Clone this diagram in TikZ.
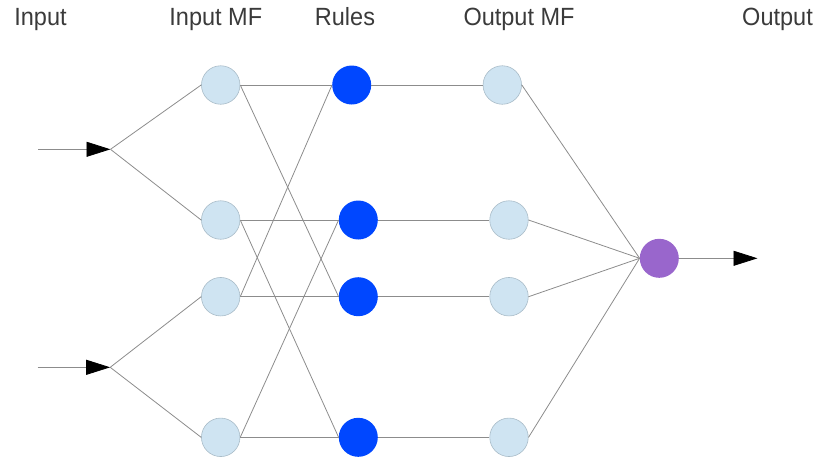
\documentclass[tikz,border=0pt]{standalone}
\usepackage{fontspec}
\setmainfont{Liberation Sans}
\usetikzlibrary{arrows.meta}
\definecolor{mffill}{HTML}{CFE4F2}
\definecolor{mfedge}{HTML}{A9BCC8}
\definecolor{ruleblue}{HTML}{0047FF}
\definecolor{outpurple}{HTML}{9966CC}
\definecolor{wiregray}{HTML}{8C8C8C}
\definecolor{labelgray}{HTML}{3A3A3A}
\begin{document}
\begin{tikzpicture}[x=1pt,y=-1pt,
  wire/.style={draw=wiregray, line width=0.8pt},
  mf/.style={circle, fill=mffill, draw=mfedge, line width=0.6pt, minimum size=38.5pt, inner sep=0pt},
  rulenode/.style={circle, fill=ruleblue, minimum size=39pt, inner sep=0pt},
  outnode/.style={circle, fill=outpurple, minimum size=39pt, inner sep=0pt},
  head/.style={font=\fontsize{23.5}{28}\selectfont, text=labelgray, anchor=base, inner sep=0pt},
  feed/.style={wire, -{Triangle[length=24pt,width=15pt,fill=black,color=black]}}]
\useasboundingbox (0,0) rectangle (818,459);

% column headings
\node[head] (hin)   at (40.5,25)  {\scalebox{1}[1.06]{Input}};
\node[head] (hmf)   at (215.8,25) {\scalebox{1}[1.06]{Input MF}};
\node[head] (hrule) at (345,25)   {\scalebox{1}[1.06]{Rules}};
\node[head] (homf)  at (519,25)   {\scalebox{1}[1.06]{Output MF}};
\node[head] (hout)  at (777.5,25) {\scalebox{1}[1.06]{Output}};

% input membership functions
\node[mf] (mf1) at (220.7,85)    {};
\node[mf] (mf2) at (220.7,220)   {};
\node[mf] (mf3) at (220.7,296.7) {};
\node[mf] (mf4) at (220.7,437.3) {};

% rules
\node[rulenode] (r1) at (351.7,85)    {};
\node[rulenode] (r2) at (358.3,220)   {};
\node[rulenode] (r3) at (358.3,296.7) {};
\node[rulenode] (r4) at (358.3,437.3) {};

% output membership functions
\node[mf] (omf1) at (502.3,85)    {};
\node[mf] (omf2) at (509,220)     {};
\node[mf] (omf3) at (509,296.7)   {};
\node[mf] (omf4) at (509,437.3)   {};

% output
\node[outnode] (out) at (659.3,258.3) {};

% inputs
\coordinate (s1) at (38,149.3);
\coordinate (j1) at (110.5,149.3);
\coordinate (s2) at (37.5,367.3);
\coordinate (j2) at (110.2,367.3);
\coordinate (e)  at (757.5,258.3);

\draw[feed] (s1) -- (j1);
\draw[feed] (s2) -- (j2);
\draw[wire] (j1) -- (mf1.west);
\draw[wire] (j1) -- (mf2.west);
\draw[wire] (j2) -- (mf3.west);
\draw[wire] (j2) -- (mf4.west);

% input MF to rules
\draw[wire] (mf1.east) -- (r1.west);
\draw[wire] (mf1.east) -- (r3.west);
\draw[wire] (mf2.east) -- (r2.west);
\draw[wire] (mf2.east) -- (r4.west);
\draw[wire] (mf3.east) -- (r3.west);
\draw[wire] (mf3.east) -- (r1.west);
\draw[wire] (mf4.east) -- (r4.west);
\draw[wire] (mf4.east) -- (r2.west);

% rules to output MF
\draw[wire] (r1.east) -- (omf1.west);
\draw[wire] (r2.east) -- (omf2.west);
\draw[wire] (r3.east) -- (omf3.west);
\draw[wire] (r4.east) -- (omf4.west);

% output MF to output
\draw[wire] (omf1.east) -- (out.west);
\draw[wire] (omf2.east) -- (out.west);
\draw[wire] (omf3.east) -- (out.west);
\draw[wire] (omf4.east) -- (out.west);

\draw[feed] (out.east) -- (e);
\end{tikzpicture}
\end{document}
